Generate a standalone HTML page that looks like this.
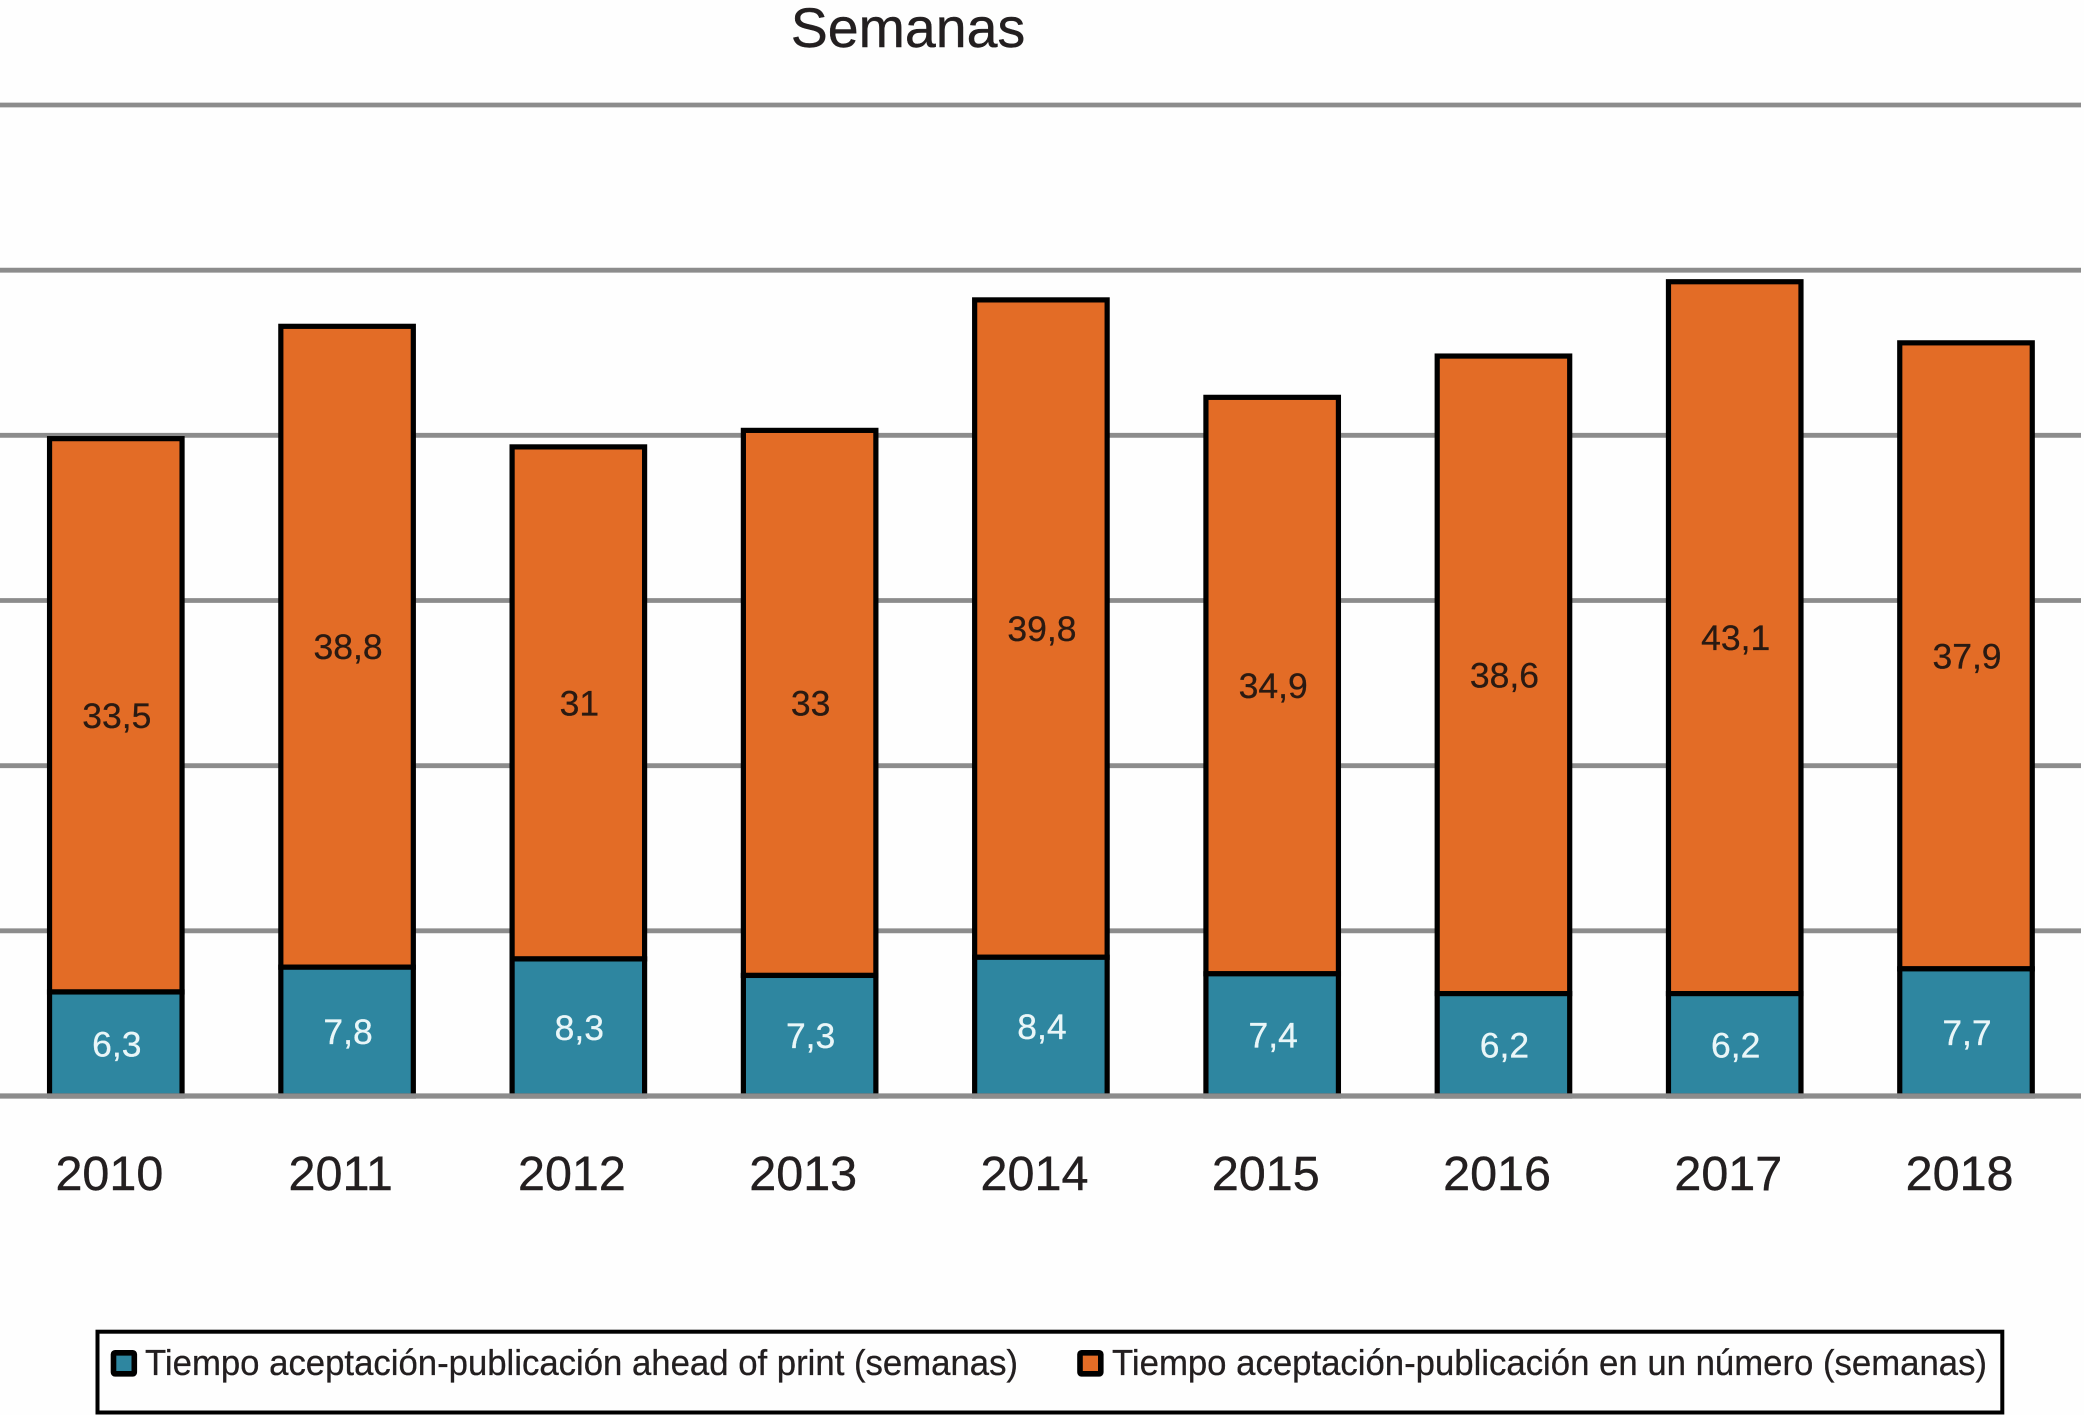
<!DOCTYPE html>
<html lang="es">
<head>
<meta charset="utf-8">
<title>Semanas</title>
<style>
html,body{margin:0;padding:0;background:#fefefe;}
svg{display:block;}
text{font-family:"Liberation Sans",sans-serif;}
</style>
</head>
<body>
<svg id="chart" xmlns="http://www.w3.org/2000/svg" width="2084" height="1415" viewBox="0 0 2084 1415">
  <rect x="0" y="0" width="2084" height="1415" fill="#fefefe"/>
  <text x="908" y="47" font-size="55.5" text-anchor="middle" fill="#231f20" stroke="#231f20" stroke-width="0.4">Semanas</text>
  <g id="grid"></g>
  <g id="bars"></g>
  <g id="baseline"></g>
  <g id="xlabels"></g>
  <g>
    <rect x="97.5" y="1331.7" width="1904.8" height="80.8" fill="#fefefe" stroke="#000" stroke-width="4"/>
    <rect x="113.5" y="1352.8" width="20.8" height="21" rx="1.5" fill="#2e86a0" stroke="#000" stroke-width="5.6"/>
    <text x="145" y="1375.2" font-size="36.5" fill="#231f20" stroke="#231f20" stroke-width="0.3" textLength="873" lengthAdjust="spacingAndGlyphs">Tiempo aceptación-publicación ahead of print (semanas)</text>
    <rect x="1080" y="1352.8" width="20.8" height="21" rx="1.5" fill="#e36c26" stroke="#000" stroke-width="5.6"/>
    <text x="1112" y="1375.2" font-size="36.5" fill="#231f20" stroke="#231f20" stroke-width="0.3" textLength="875" lengthAdjust="spacingAndGlyphs">Tiempo aceptación-publicación en un número (semanas)</text>
  </g>
</svg>
<script>
const categories = ["2010","2011","2012","2013","2014","2015","2016","2017","2018"];
const aheadOfPrint = [6.3,7.8,8.3,7.3,8.4,7.4,6.2,6.2,7.7];
const enUnNumero = [33.5,38.8,31,33,39.8,34.9,38.6,43.1,37.9];
const gridTicks = [0,10,20,30,40,50,60];

const NS = "http://www.w3.org/2000/svg";
function yScale(v){ return 1096 - v * (1096 - 105) / 60; }
function xScale(i){ return 115.8 + i * (1966 - 115.8) / (categories.length - 1); }
function fmt(v){ return String(v).replace(".", ","); }
function mk(tag, attrs, parent){
  const el = document.createElementNS(NS, tag);
  for (const k in attrs) el.setAttribute(k, attrs[k]);
  parent.appendChild(el);
  return el;
}
const BAR_W = 132.5;
const gridG = document.getElementById("grid");
const barsG = document.getElementById("bars");
const baseG = document.getElementById("baseline");
const xG = document.getElementById("xlabels");

gridTicks.forEach(function(t){
  const parent = t === 0 ? baseG : gridG;
  const line = mk("line", {x1:0, x2:2081, y1:yScale(t), y2:yScale(t), stroke:"#8c8c8c", "stroke-width":t === 0 ? 5.2 : 4.8}, parent);
  
  
});

categories.forEach(function(cat, i){
  const cx = xScale(i);
  const a = aheadOfPrint[i];
  const b = enUnNumero[i];
  const y0 = yScale(0), y1 = yScale(a), y2 = yScale(a + b);

  const rectB = mk("rect", {x:cx - BAR_W / 2, y:y2, width:BAR_W, height:y1 - y2, fill:"#e36c26", stroke:"#000", "stroke-width":5.2}, barsG);
  
  

  const rectA = mk("rect", {x:cx - BAR_W / 2, y:y1, width:BAR_W, height:y0 - y1, fill:"#2e86a0", stroke:"#000", "stroke-width":5.2}, barsG);
  
  

  const labelA = mk("text", {x:cx + 1, y:(y0 + y1) / 2 + 12.5, "font-size":35.5, "text-anchor":"middle", fill:"#e9f6f8", stroke:"#e9f6f8", "stroke-width":0.3}, barsG);
  labelA.textContent = fmt(a);
  
  

  const labelB = mk("text", {x:cx + 1, y:(y1 + y2) / 2 + 12.5, "font-size":35.5, "text-anchor":"middle", fill:"#2a1a12", stroke:"#2a1a12", "stroke-width":0.3}, barsG);
  labelB.textContent = fmt(b);
  
  

  const xLabel = mk("text", {x:cx - 6.4, y:1190, "font-size":48.5, "text-anchor":"middle", fill:"#231f20", stroke:"#231f20", "stroke-width":0.4}, xG);
  xLabel.textContent = cat;
  
  
});
</script>
</body>
</html>
